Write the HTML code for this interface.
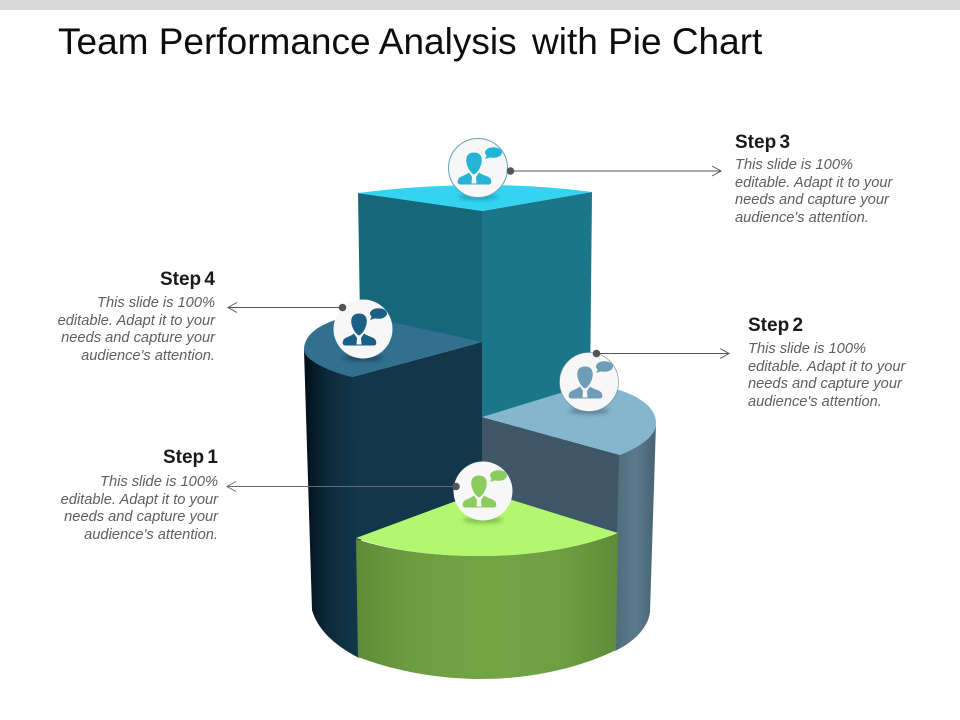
<!DOCTYPE html>
<html><head><meta charset="utf-8"><style>
html,body{margin:0;padding:0;background:#fff;width:960px;height:720px;overflow:hidden}
svg{display:block}
text{font-family:"Liberation Sans",sans-serif}
.t{font-size:37px;fill:#0d0d0d}
.h{font-size:19px;font-weight:bold;fill:#1a1a1a;word-spacing:-2px}
.b{font-size:14.650px;font-style:italic;fill:#5f5f5f}
.e{text-anchor:end}
</style></head><body>
<svg width="960" height="720" viewBox="0 0 960 720" xmlns="http://www.w3.org/2000/svg">
<defs>
<linearGradient id="gG" x1="0" x2="1" y1="0" y2="0"><stop offset="0" stop-color="#5f8a39"/><stop offset=".2" stop-color="#6c9c40"/><stop offset=".5" stop-color="#72a645"/><stop offset=".8" stop-color="#6d9e41"/><stop offset="1" stop-color="#5f8a39"/></linearGradient>
<linearGradient id="gD" x1="0" x2="1" y1="0" y2="0"><stop offset="0" stop-color="#020f18"/><stop offset=".45" stop-color="#0c2b3c"/><stop offset="1" stop-color="#12374b"/></linearGradient>
<linearGradient id="gS" x1="0" x2="1" y1="0" y2="0"><stop offset="0" stop-color="#4e6b7b"/><stop offset=".5" stop-color="#5b7b8d"/><stop offset="1" stop-color="#476273"/></linearGradient>
<filter id="bl" x="-30%" y="-200%" width="160%" height="500%"><feGaussianBlur stdDeviation="2"/></filter>
<g id="p">
<path d="M-4 -15.500C-11 -15.500 -12.500 -10 -11.500 -5C-10.500 0 -7 5.500 -4 6.500C-1 5.500 2.500 0 3.500 -5C4.500 -10 3 -15.500 -4 -15.500Z"/>
<path d="M-9 4.500L-6 9L-6.500 15.500H-1.500L-2 9L1 4.500C6 8 12 8 13 12C14 16 12 16.500 10 16.500L-17 16.500C-20 16.500 -21 15 -20 12C-19 8 -13 8 -9 4.500Z"/>
<ellipse cx="15.500" cy="-15.500" rx="8.500" ry="5.300"/>
<path d="M9 -13L7 -9L13 -11Z"/>
</g>
</defs>
<rect width="960" height="10" fill="#d9d9d9"/>
<text class="t" x="58" y="54">Team Performance Analysis</text><text class="t" x="532" y="54">with Pie Chart</text>

<!-- teal block -->
<path d="M358 193L483 211L483 345L360 318Z" fill="#17677a"/>
<path d="M482 211L592 192L590 392L482 418Z" fill="#1b7689"/>
<path d="M358 193Q420 185 482 185Q540 185 592 192L482 211Z" fill="#33d3f2"/>

<!-- slate sector -->
<path d="M482 417L620 455L618 535L482 494Z" fill="#3e5666"/>
<path d="M619 455C640 447 656 436 656 423L650 612C648 628 634 642 615 651L617 533Z" fill="url(#gS)"/>
<path d="M482 417L590 384C625 388 656 402 656 423C656 436 640 447 620 455Z" fill="#84b6ce"/>

<!-- dark sector -->
<path d="M304 350Q326 362 353 377L357 540L359 658Q320 638 312 610Z" fill="url(#gD)"/>
<path d="M352 377L482 342L482 500L356 542Z" fill="#12374b"/>
<path d="M304 350C304 335 318 326 335 320Q360 314 392 322L482 342L352 377C330 372 304 360 304 350Z" fill="#31708f"/>

<!-- green sector -->
<path d="M356 539C395 552 440 556 482 556C530 556 580 548 618 533L616 650C580 668 530 679 482 679C435 679 392 670 358 657Z" fill="url(#gG)"/>
<path d="M356 538L483 491L618 533C580 548 530 556 482 556C440 556 395 552 356 538Z" fill="#b2f76f"/>

<!-- lines -->
<g stroke="#555" stroke-width="1" fill="none">
<path d="M511 171H721M712 166L721 171L712 176"/>
<path d="M343 307.500H228M237 302.500L228 307.500L237 312.500"/>
<path d="M597 353.500H729M720 348.500L729 353.500L720 358.500"/>
<path d="M456 486.500H227M236 481.500L227 486.500L236 491.500" stroke="#6a6a6a"/>
</g>

<!-- circles -->
<ellipse cx="478" cy="197" rx="20" ry="3" fill="#137a90" opacity=".55" filter="url(#bl)"/>
<circle cx="478" cy="168" r="29.500" fill="#f7f7f7" stroke="#5fa8b5" stroke-width="1"/>
<use href="#p" x="478" y="168" fill="#25b4d6"/>
<ellipse cx="363" cy="358" rx="20" ry="3" fill="#123" opacity=".5" filter="url(#bl)"/>
<circle cx="363" cy="329" r="29.500" fill="#f7f7f7"/>
<use href="#p" x="363" y="329" fill="#1b5f86"/>
<ellipse cx="589" cy="411" rx="20" ry="3" fill="#345" opacity=".5" filter="url(#bl)"/>
<circle cx="589" cy="382" r="29.500" fill="#f7f7f7" stroke="#6b8a99" stroke-width=".6"/>
<use href="#p" x="589" y="382" fill="#6f9db7"/>
<ellipse cx="483" cy="520" rx="20" ry="3" fill="#5c8a35" opacity=".6" filter="url(#bl)"/>
<circle cx="483" cy="491" r="29.500" fill="#f7f7f7"/>
<use href="#p" x="483" y="491" fill="#8ccb5e"/>

<g fill="#555"><circle cx="510.500" cy="171" r="3.800"/><circle cx="342.500" cy="307.500" r="3.800"/><circle cx="596.500" cy="353.500" r="3.800"/><circle cx="456" cy="486.500" r="3.800"/></g>

<!-- labels -->
<text class="h" x="735" y="148">Step 3</text>
<text class="b" x="735" y="169">This slide is 100%</text>
<text class="b" x="735" y="187">editable. Adapt it to your</text>
<text class="b" x="735" y="204">needs and capture your</text>
<text class="b" x="735" y="222">audience's attention.</text>

<text class="h" x="748" y="331">Step 2</text>
<text class="b" x="748" y="353">This slide is 100%</text>
<text class="b" x="748" y="371">editable. Adapt it to your</text>
<text class="b" x="748" y="388">needs and capture your</text>
<text class="b" x="748" y="406">audience's attention.</text>

<text class="h e" x="215" y="285">Step 4</text>
<text class="b e" x="215" y="307">This slide is 100%</text>
<text class="b e" x="215" y="325">editable. Adapt it to your</text>
<text class="b e" x="215" y="342">needs and capture your</text>
<text class="b e" x="215" y="360">audience's attention.</text>

<text class="h e" x="218" y="463">Step 1</text>
<text class="b e" x="218" y="486">This slide is 100%</text>
<text class="b e" x="218" y="504">editable. Adapt it to your</text>
<text class="b e" x="218" y="521">needs and capture your</text>
<text class="b e" x="218" y="539">audience's attention.</text>
</svg>
</body></html>
